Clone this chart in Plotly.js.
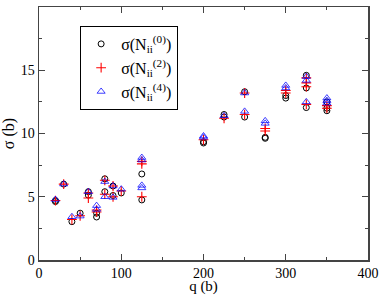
<!DOCTYPE html>
<html><head><meta charset="utf-8">
<script src="https://cdn.plot.ly/plotly-3.0.1.min.js"></script>
<style>body{margin:0;padding:0;background:#fff}#c{width:382px;height:295px}</style>
</head><body><div id="c"></div>
<script>
// σ(N_ii^(0)) — open circles
const q0 = [20,20,30,40,50,60,60,70,70,80,80,90,90,100,125,125,200,200,225,225,250,250,275,275,300,300,325,325,325,350,350,350];
const s0 = [4.62,4.7,6.0,3.03,3.7,5.13,5.4,3.4,3.7,6.42,5.4,5.85,5.1,5.3,6.8,4.75,9.25,9.35,11.3,11.5,13.3,11.3,9.62,9.7,12.8,13.0,14.6,13.6,12.05,11.8,12.0,12.5];
// σ(N_ii^(2)) — red crosses
const q2 = [20,30,40,50,60,60,70,70,80,80,90,90,100,125,125,125,200,225,250,250,275,275,300,300,325,325,325,325,350,350];
const s2 = [4.7,6.0,3.2,3.5,4.9,5.3,3.8,3.95,6.3,5.2,5.85,5.0,5.45,7.6,7.8,5.0,9.5,11.2,13.2,11.5,10.2,10.4,13.2,13.4,14.4,14.0,13.7,12.3,12.0,12.2];
// σ(N_ii^(4)) — blue open triangles
const q4 = [20,30,40,50,60,70,70,80,80,90,90,100,125,125,125,125,200,200,225,250,250,275,275,300,300,325,325,325,350,350,350];
const s4 = [4.78,6.0,3.42,3.47,5.4,4.0,4.3,6.2,5.0,5.85,4.95,5.6,8.1,7.9,5.7,5.9,9.8,9.7,11.4,13.2,11.75,10.8,11.0,13.6,13.8,14.5,14.2,12.5,12.8,12.6,12.4];
const names = ['σ(N<sub>ii</sub><sup>(0)</sup>)', 'σ(N<sub>ii</sub><sup>(2)</sup>)', 'σ(N<sub>ii</sub><sup>(4)</sup>)'];

const fnt = 'Liberation Serif';
const traces = [
  {x:q0, y:s0, type:'scatter', mode:'markers', name:names[0],
   marker:{symbol:'circle-open', size:6, color:'#000', line:{width:1}}},
  {x:q2, y:s2, type:'scatter', mode:'markers', name:names[1],
   marker:{symbol:'cross-thin-open', size:7, color:'#ff0000', line:{width:1.1, color:'#ff0000'}}},
  {x:q4, y:s4, type:'scatter', mode:'markers', name:names[2],
   marker:{symbol:'triangle-up-open', size:7, color:'rgba(0,0,255,0.75)', line:{width:1}}}
];
function ax(extra){
  return Object.assign({showgrid:false, zeroline:false, showline:true, mirror:'ticks',
    linecolor:'#444', linewidth:1.5, ticks:'inside', ticklen:6, tickwidth:1, tickcolor:'#444',
    tickfont:{family:fnt, size:14, color:'#000'}}, extra);
}
const layout = {
  width:382, height:295,
  margin:{l:39, r:14, t:7, b:35},
  paper_bgcolor:'#fff', plot_bgcolor:'#fff',
  font:{family:fnt, size:14, color:'#000'},
  showlegend:true,
  xaxis:ax({range:[0,400], dtick:100,
    minor:{dtick:50, ticks:'inside', ticklen:3, tickcolor:'#444'},
    title:{text:'q (b)', font:{family:fnt, size:15, color:'#000'}, standoff:0}}),
  yaxis:ax({range:[0,20], dtick:5,
    minor:{dtick:2.5, ticks:'inside', ticklen:3, tickcolor:'#444'},
    title:{text:'σ (b)', font:{family:fnt, size:16, color:'#000'}, standoff:4}}),
  legend:{x:0.125, y:0.925, xanchor:'left', yanchor:'top',
    bordercolor:'#000', borderwidth:1, bgcolor:'#fff',
    font:{family:fnt, size:16, color:'#000'}, tracegroupgap:0, itemwidth:30}
};
Plotly.newPlot('c', traces, layout, {displayModeBar:false, staticPlot:true});
</script></body></html>
